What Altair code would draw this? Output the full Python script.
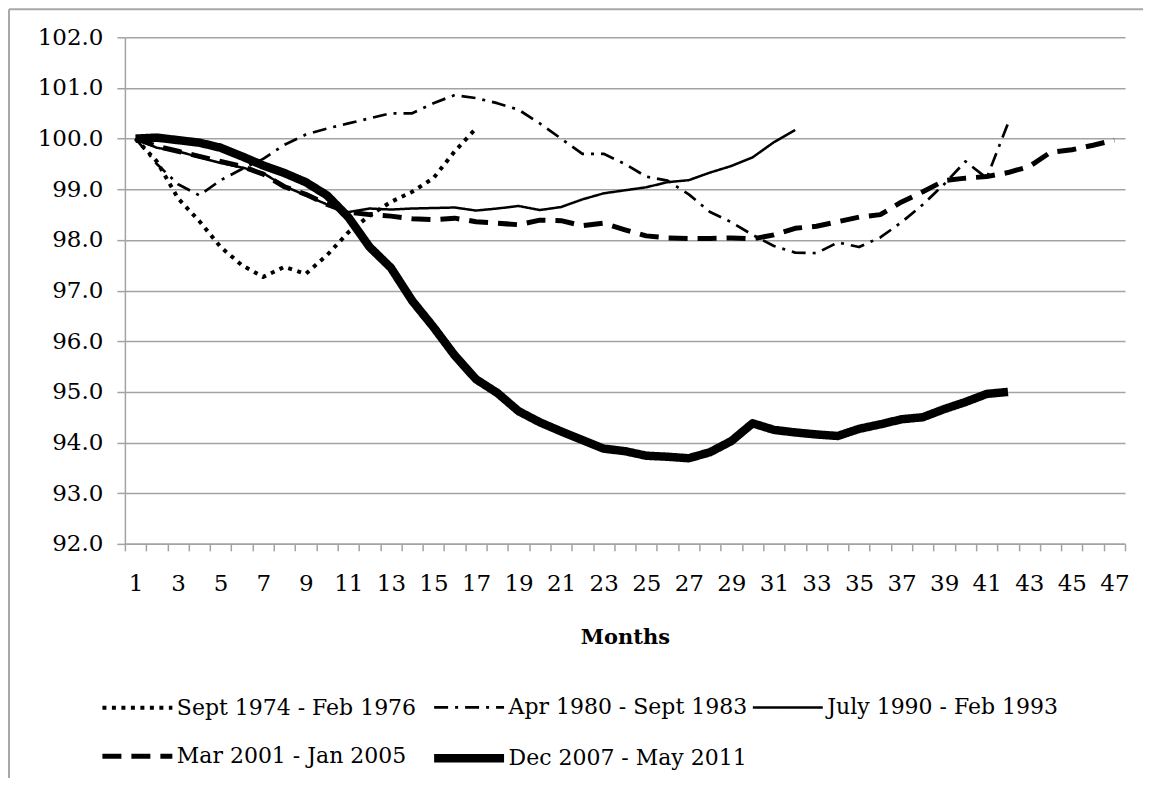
import altair as alt
import pandas as pd

series_names = [
    "Sept 1974 - Feb 1976",
    "Apr 1980 - Sept 1983",
    "July 1990 - Feb 1993",
    "Mar 2001 - Jan 2005",
    "Dec 2007 - May 2011",
]

s1974 = [100.0, 99.55, 98.82, 98.37, 97.86, 97.5, 97.27, 97.47, 97.33, 97.7,
         98.15, 98.48, 98.75, 98.95, 99.22, 99.75, 100.2]

s1980 = [100.0, 99.5, 99.1, 98.88, 99.18, 99.4, 99.6, 99.88, 100.08, 100.2,
         100.3, 100.4, 100.5, 100.5, 100.7, 100.86, 100.8, 100.7, 100.57, 100.3,
         100.0, 99.7, 99.7, 99.5, 99.25, 99.17, 98.9, 98.55, 98.35, 98.1,
         97.88, 97.75, 97.74, 97.95, 97.86, 98.05, 98.35, 98.7, 99.1, 99.55,
         99.22, 100.3]

s1990 = [100.0, 99.82, 99.75, 99.63, 99.52, 99.43, 99.32, 99.06, 98.88, 98.7,
         98.55, 98.62, 98.6, 98.62, 98.63, 98.64, 98.58, 98.62, 98.67, 98.59,
         98.65, 98.8, 98.92, 98.98, 99.04, 99.14, 99.18, 99.33, 99.46, 99.63,
         99.93, 100.17]

s2001 = [100.0, 99.85, 99.75, 99.65, 99.55, 99.45, 99.3, 99.05, 98.9, 98.7,
         98.55, 98.5, 98.47, 98.42, 98.4, 98.43, 98.36, 98.33, 98.3, 98.39,
         98.38, 98.28, 98.33, 98.2, 98.08, 98.04, 98.03, 98.03, 98.04, 98.02,
         98.1, 98.23, 98.27, 98.36, 98.45, 98.5, 98.75, 98.95, 99.17, 99.22,
         99.25, 99.33, 99.45, 99.73, 99.78, 99.87, 99.97]

s2007 = [100.0, 100.02, 99.97, 99.92, 99.82, 99.65, 99.47, 99.32, 99.14, 98.88,
         98.45, 97.86, 97.45, 96.8, 96.28, 95.72, 95.25, 94.98, 94.62, 94.4,
         94.22, 94.05, 93.88, 93.83, 93.74, 93.72, 93.69, 93.81, 94.03, 94.38,
         94.25, 94.2, 94.16, 94.13, 94.27, 94.36, 94.46, 94.5, 94.66, 94.8,
         94.96, 95.0]

y_ticks = [92, 93, 94, 95, 96, 97, 98, 99, 100, 101, 102]

rows = []
for name, vals in zip(series_names, [s1974, s1980, s1990, s2001, s2007]):
    for i, v in enumerate(vals):
        rows.append({"series": name, "month": i + 1, "value": v})
df = pd.DataFrame(rows)

dash_range = [[4, 5.5], [14, 7, 3, 7], [1, 0], [19, 10], [1, 0]]
width_range = [4, 2.7, 2.5, 5, 8.5]

GRID = "#a3a3a3"
FONT = "DejaVu Serif"

legend = alt.Legend(
    title=None,
    orient="none",
    legendX=-27,
    legendY=634,
    columns=3,
    direction="horizontal",
    symbolType="stroke",
    symbolSize=4900,
    symbolStrokeColor="black",
    labelFont=FONT,
    labelFontSize=22,
    labelColor="black",
    labelLimit=400,
    labelOffset=0,
    columnPadding=0,
    rowPadding=-23,
)

lines = alt.Chart(df).mark_line(color="black", strokeCap="butt", strokeJoin="round").encode(
    x=alt.X(
        "month:O",
        bandPosition=0.5,
        scale=alt.Scale(type="band", paddingInner=0, paddingOuter=0),
        axis=alt.Axis(
            title="Months",
            labelAngle=0,
            labelExpr="datum.value % 2 == 1 ? datum.label : ''",
            labelOverlap=False,
            labelFont=FONT,
            labelFontSize=23,
            labelColor="black",
            labelPadding=22,
            tickBand="extent",
            tickColor=GRID,
            tickWidth=1.5,
            tickSize=7,
            domainColor=GRID,
            domainWidth=1.5,
            grid=False,
            titleFont=FONT,
            titleFontSize=21,
            titleFontWeight="bold",
            titleColor="black",
            titlePadding=31,
        ),
    ),
    y=alt.Y(
        "value:Q",
        scale=alt.Scale(domain=[92, 102], nice=False, zero=False),
        axis=alt.Axis(
            title=None,
            values=y_ticks,
            format=".1f",
            labelFont=FONT,
            labelFontSize=23,
            labelColor="black",
            labelPadding=14,
            tickColor=GRID,
            tickWidth=1.5,
            tickSize=8,
            domainColor=GRID,
            domainWidth=1.5,
            grid=True,
            gridColor=GRID,
            gridWidth=1.5,
        ),
    ),
    strokeDash=alt.StrokeDash(
        "series:N",
        scale=alt.Scale(type="ordinal", domain=series_names, range=dash_range),
        sort=series_names,
        legend=legend,
        title=None,
    ),
    strokeWidth=alt.StrokeWidth(
        "series:N",
        scale=alt.Scale(type="ordinal", domain=series_names, range=width_range),
        sort=series_names,
        legend=legend,
        title=None,
    ),
)

frame_src = pd.DataFrame({"k": [0]})
left_edge = alt.Chart(frame_src).mark_rule(color="#a8a8a8", strokeWidth=2).encode(
    x=alt.value(-116), y=alt.value(-28), y2=alt.value(760)
)
top_edge = alt.Chart(frame_src).mark_rule(color="#a8a8a8", strokeWidth=2).encode(
    x=alt.value(-116), x2=alt.value(1020), y=alt.value(-28)
)

chart = alt.layer(left_edge, top_edge, lines).properties(
    width=1001,
    height=507,
    autosize=alt.AutoSizeParams(type="none"),
    padding={"left": 117, "top": 29, "right": 18, "bottom": 234},
    background="white",
).configure_view(strokeWidth=0)

chart.save("out.html", embed_options={"renderer": "svg", "actions": False})
